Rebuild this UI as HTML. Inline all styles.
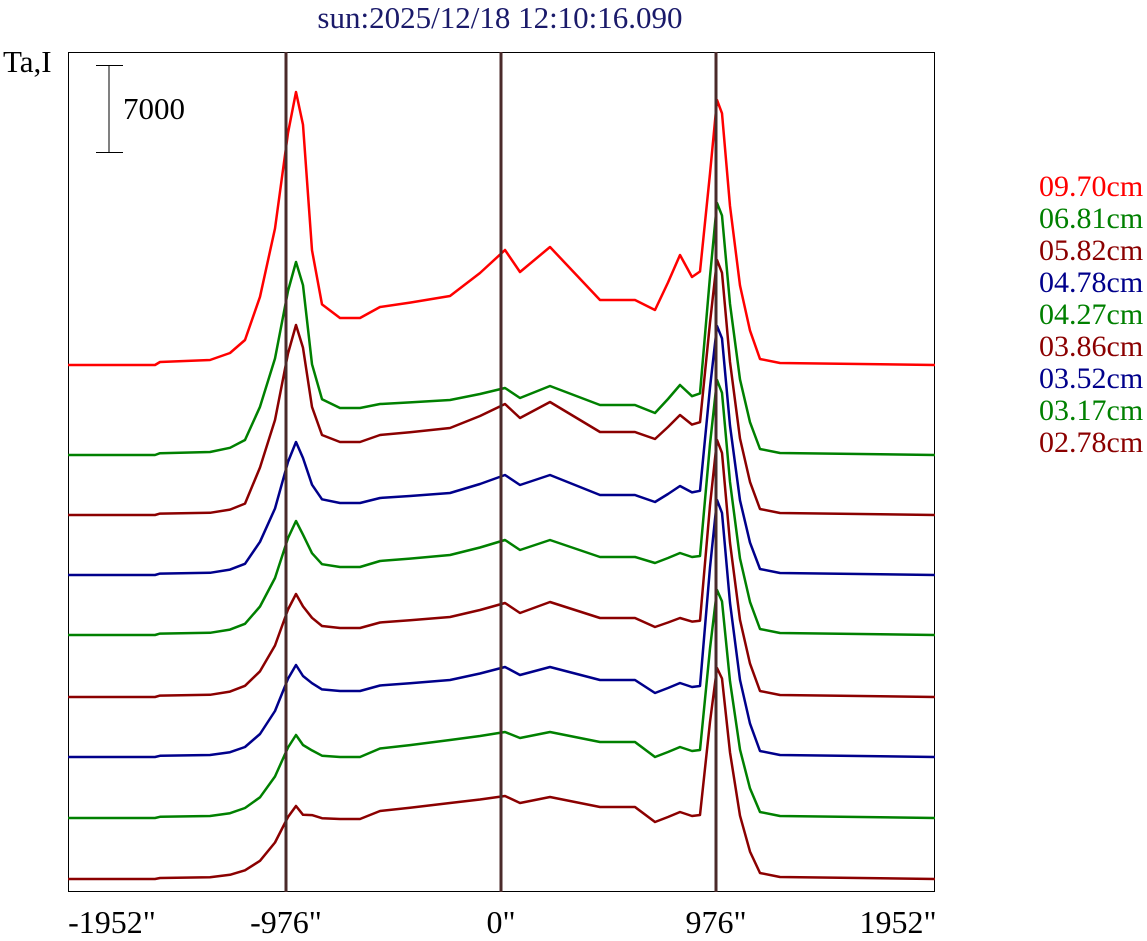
<!DOCTYPE html>
<html><head><meta charset="utf-8"><style>
html,body{margin:0;padding:0;background:#fff;}
svg{display:block;font-family:"Liberation Serif",serif;}
</style></head><body>
<svg id="s" width="1147" height="941" viewBox="0 0 1147 941" xmlns="http://www.w3.org/2000/svg">
<rect width="1147" height="941" fill="#fff"/>
<text x="500" y="28" font-size="31" fill="#1a1a6a" text-anchor="middle">sun:2025/12/18 12:10:16.090</text>
<text x="3" y="72" font-size="31" fill="#000">Ta,I</text>
<rect x="68.5" y="52.5" width="866" height="839" fill="none" stroke="#000" stroke-width="1"/>
<line x1="109" y1="65" x2="109" y2="152" stroke="#000"/>
<line x1="96" y1="65.5" x2="123" y2="65.5" stroke="#000"/>
<line x1="96" y1="152.5" x2="123" y2="152.5" stroke="#000"/>
<text x="123" y="119" font-size="31" fill="#000">7000</text>
<g id="curves" fill="none" stroke-width="2.5" stroke-linejoin="round"></g>
<line x1="286" y1="52" x2="286" y2="892" stroke="#4a2a2a" stroke-width="3"/>
<line x1="501" y1="52" x2="501" y2="892" stroke="#4a2a2a" stroke-width="3"/>
<line x1="716" y1="52" x2="716" y2="892" stroke="#4a2a2a" stroke-width="3"/>
<g font-size="32" fill="#000" text-anchor="middle">
<text x="112" y="933">-1952"</text>
<text x="286" y="933">-976"</text>
<text x="501" y="933">0"</text>
<text x="716" y="933">976"</text>
<text x="898" y="933">1952"</text>
</g>
<g font-size="30">
<text x="1039" y="196" fill="#ff0000">09.70cm</text>
<text x="1039" y="228" fill="#008000">06.81cm</text>
<text x="1039" y="260" fill="#8b0000">05.82cm</text>
<text x="1039" y="292" fill="#00008b">04.78cm</text>
<text x="1039" y="324" fill="#008000">04.27cm</text>
<text x="1039" y="356" fill="#8b0000">03.86cm</text>
<text x="1039" y="388" fill="#00008b">03.52cm</text>
<text x="1039" y="420" fill="#008000">03.17cm</text>
<text x="1039" y="452" fill="#8b0000">02.78cm</text>
</g>
</svg>
<script>
// color,b,L,d,p,c1,cm,c2,q,rd,rb,R,k
var ser=[
["#ff0000",365,92,318,296,250,272,247,300,310,255,100,1],
["#008000",455,262,408,400,388,398,386,405,413,385,203,0.6],
["#8b0000",515,325,442,428,404,418,402,432,439,415,260,0.45],
["#00008b",575,442,503,493,475,485,475,495,502,486,326,0.45],
["#008000",635,521,567,555,540,550,540,557,563,553,380,0.45],
["#8b0000",697,594,628,617,603,613,602,618,627,618,440,0.45],
["#00008b",757,665,691,680,667,675,667,680,693,683,500,0.4],
["#008000",818,735,757,740,732,738,732,742,757,747,590,0.4],
["#8b0000",879,806,819,803,796,803,797,807,822,812,668,0.35]];
var g=document.getElementById('curves');
ser.forEach(function(s){
 var b=s[1],L=s[2],d=s[3],p=s[4],c1=s[5],cm=s[6],c2=s[7],q=s[8],rd=s[9],rb=s[10],R=s[11],k=s[12];
 var A=b-L;
 var P=[[68,b],[155,b],[160,b-3*k],[210,b-5*k],[230,b-12*k],[245,b-Math.max(25*k,0.06*A)],[260,b-0.25*A],[275,b-0.5*A],[288,b-0.85*A],[296,L],[303,L+0.12*A],
 [312,d-0.3*(d-L)],[322,d-0.06*(d-L)],[340,d],[360,d],[380,(d+p)/2],[410,p+0.3*(d-p)],[450,p],[480,(p+c1)/2],[505,c1],[520,cm],[550,c2],[575,(c2+q)/2],[600,q],[635,q],[655,rd],[668,(rd+rb)/2],[680,rb],[692,rb+0.4*(rd-rb)],[700,rb+0.3*(rd-rb)],[710,R+0.35*(rd-R)],[717,R],[722,R+0.05*(b-R)],[730,R+0.4*(b-R)],[740,R+0.7*(b-R)],[750,R+0.87*(b-R)],[760,b-6],[780,b-2],[935,b]];
 var dd='';
 P.forEach(function(pt,i){dd+=(i?'L':'M')+pt[0]+','+pt[1].toFixed(1);});
 var e=document.createElementNS('http://www.w3.org/2000/svg','path');
 e.setAttribute('d',dd);e.setAttribute('stroke',s[0]);g.appendChild(e);
});
</script>
</body></html>
